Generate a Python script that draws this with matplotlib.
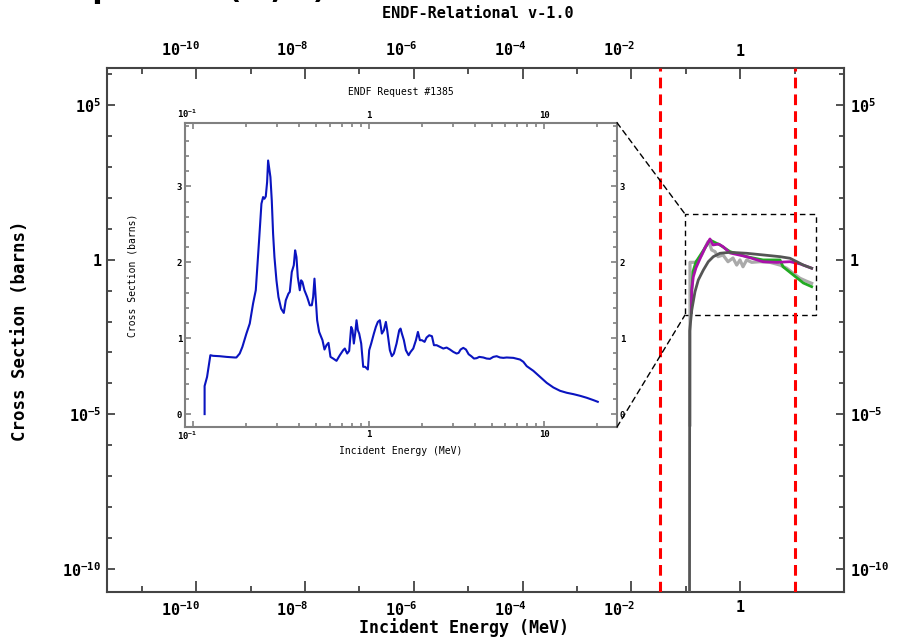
import matplotlib
matplotlib.use("Agg")
import matplotlib.pyplot as plt
import matplotlib.transforms as mtransforms
from matplotlib.patches import Rectangle, ConnectionPatch
from matplotlib.ticker import FixedLocator, FixedFormatter, NullFormatter

plt.rcParams['font.family'] = 'DejaVu Sans Mono'
plt.rcParams['font.weight'] = 'bold'
plt.rcParams['mathtext.fontset'] = 'custom'
plt.rcParams['mathtext.rm'] = 'DejaVu Sans Mono:bold'
plt.rcParams['mathtext.it'] = 'DejaVu Sans Mono:bold'
plt.rcParams['mathtext.bf'] = 'DejaVu Sans Mono:bold'

# ---- main panel data (energy in MeV, cross section in barns) ----
dark_energy = [0.1165, 0.1175, 0.128, 0.133, 0.147, 0.169, 0.209, 0.258, 0.319, 0.423,
               0.647, 1.31, 2.65, 5.37, 8.2, 10.9, 14.4, 20.5]
dark_xs = [1e-12, 0.005, 0.023, 0.034, 0.092, 0.22, 0.46, 0.86, 1.25, 1.61,
           1.73, 1.61, 1.42, 1.25, 1.11, 0.86, 0.67, 0.53]

light_energy = [0.119, 0.119, 0.147, 0.167, 0.195, 0.224, 0.255, 0.277, 0.298, 0.343,
                0.389, 0.481, 0.594, 0.734, 0.859, 0.987, 1.12, 1.31, 1.62, 2.3,
                3.51, 5.37, 7.13, 9.43, 12.5, 16.6, 20.5]
light_xs = [4.5e-6, 0.82, 0.82, 0.98, 1.42, 2.39, 3.83, 2.99, 2.06, 1.82,
            1.25, 1.42, 0.86, 1.13, 0.67, 0.98, 0.59, 0.98, 0.82, 0.86,
            0.82, 0.67, 0.53, 0.36, 0.25, 0.20, 0.172]

green_energy = [0.126, 0.128, 0.135, 0.153, 0.224, 0.277, 0.423, 0.647, 1.31, 2.61,
                5.37, 6.1, 9.43, 14.4, 20.5]
green_xs = [0.02, 0.09, 0.41, 0.84, 2.39, 4.34, 2.99, 1.82, 1.25, 0.98,
            0.98, 0.59, 0.32, 0.176, 0.134]

magenta_energy = [0.126, 0.128, 0.137, 0.153, 0.195, 0.224, 0.277, 0.315, 0.40, 0.481,
                  0.647, 1.31, 2.61, 4.67, 8.2, 12.5, 20.5]
magenta_xs = [0.02, 0.105, 0.28, 0.54, 1.42, 2.39, 4.68, 2.99, 3.2, 2.64,
              1.65, 1.25, 0.86, 0.82, 0.86, 0.73, 0.53]

marker_energies = [0.033, 10.0]       # red dashed lines
zoom_energy = [0.0962, 24.3]          # dashed zoom box
zoom_xs = [0.0162, 30.1]

# ---- inset data (ENDF Request #1385) ----
inset_energy = [
    0.116, 0.116, 0.1198, 0.1251, 0.1296, 0.1414, 0.1543, 0.1722, 0.1760, 0.1838,
    0.1904, 0.2007, 0.2097, 0.2190, 0.2269, 0.2309, 0.2370, 0.2412, 0.2444, 0.2498,
    0.2542, 0.2587, 0.2633, 0.2668, 0.2702, 0.2750, 0.2799, 0.2848, 0.2899, 0.2976,
    0.3055, 0.3164, 0.3277, 0.3364, 0.3483, 0.3545, 0.3639, 0.3736, 0.3802, 0.3869,
    0.3937, 0.4042, 0.4113, 0.4185, 0.4297, 0.4450, 0.4609, 0.4732, 0.4816, 0.4900,
    0.4987, 0.5075, 0.5210, 0.5443, 0.5588, 0.5736, 0.5888, 0.6045, 0.6262, 0.6542,
    0.6834, 0.7140, 0.7298, 0.7525, 0.7725, 0.7931, 0.8071, 0.8213, 0.8358, 0.8506,
    0.8656, 0.8808, 0.9044, 0.9284, 0.9530, 0.9869, 1.0044, 1.031, 1.068, 1.096,
    1.125, 1.155, 1.186, 1.218, 1.250, 1.272, 1.317, 1.352, 1.388, 1.438,
    1.489, 1.515, 1.542, 1.583, 1.625, 1.684, 1.729, 1.790, 1.854, 1.903,
    1.953, 2.005, 2.077, 2.132, 2.208, 2.287, 2.348, 2.432, 2.540, 2.654,
    2.773, 2.896, 3.026, 3.161, 3.245, 3.331, 3.450, 3.573, 3.700, 3.832,
    3.969, 4.111, 4.256, 4.486, 4.687, 4.897, 5.116, 5.345, 5.583, 5.833,
    6.095, 6.651, 7.259, 7.584, 7.924, 8.648, 9.438, 10.30, 11.24, 12.27,
    13.40, 14.62, 15.96, 17.42, 19.01, 20.13]
inset_xs = [
    0.0, 0.37, 0.49, 0.776, 0.768, 0.763, 0.754, 0.746, 0.746, 0.798,
    0.886, 1.061, 1.193, 1.456, 1.632, 1.895, 2.289, 2.575, 2.772, 2.860,
    2.838, 2.868, 3.057, 3.342, 3.254, 3.123, 2.816, 2.377, 2.070, 1.763,
    1.544, 1.390, 1.333, 1.500, 1.588, 1.610, 1.873, 1.961, 2.158, 2.070,
    1.807, 1.632, 1.763, 1.741, 1.632, 1.544, 1.434, 1.434, 1.544, 1.785,
    1.500, 1.237, 1.083, 0.974, 0.851, 0.908, 0.939, 0.754, 0.732, 0.702,
    0.776, 0.842, 0.864, 0.798, 0.833, 1.149, 1.105, 0.930, 1.061, 1.237,
    1.105, 1.061, 0.930, 0.623, 0.623, 0.588, 0.842, 0.930, 1.061, 1.149,
    1.215, 1.237, 1.061, 1.105, 1.215, 1.105, 0.842, 0.763, 0.798, 0.930,
    1.105, 1.127, 1.061, 0.974, 0.842, 0.776, 0.820, 0.864, 0.974, 1.083,
    0.974, 0.974, 0.952, 1.009, 1.039, 1.026, 0.908, 0.908, 0.886, 0.864,
    0.877, 0.851, 0.820, 0.798, 0.807, 0.851, 0.873, 0.851, 0.789, 0.763,
    0.732, 0.737, 0.754, 0.746, 0.732, 0.728, 0.754, 0.763, 0.746, 0.741,
    0.746, 0.741, 0.719, 0.689, 0.632, 0.570, 0.491, 0.412, 0.351, 0.307,
    0.281, 0.263, 0.241, 0.215, 0.184, 0.162]

main_xticks = [1e-10, 1e-8, 1e-6, 1e-4, 1e-2, 1]
main_xticklabels = [r'$10^{-10}$', r'$10^{-8}$', r'$10^{-6}$', r'$10^{-4}$', r'$10^{-2}$', '1']
main_yticks = [1e-10, 1e-5, 1, 1e5]
main_yticklabels = [r'$10^{-10}$', r'$10^{-5}$', '1', r'$10^{5}$']
inset_xticks = [0.1, 1, 10]
inset_xticklabels = [r'$10^{-1}$', '1', '10']
inset_yticks = [0, 1, 2, 3]
inset_yticklabels = ['0', '1', '2', '3']

fig = plt.figure(figsize=(9.04, 6.38), dpi=100)

# ---------------- main axes ----------------
ax = fig.add_axes([107 / 904, 1 - 592 / 638, 737 / 904, 524.3 / 638])
ax.set_xscale('log')
ax.set_yscale('log')
ax.set_xlim(10 ** -11.64, 10 ** 1.906)
ax.set_ylim(10 ** -10.75, 10 ** 6.21)

for s in ax.spines.values():
    s.set_color('#444444')
    s.set_linewidth(1.5)

ax.xaxis.set_major_locator(FixedLocator(main_xticks))
ax.xaxis.set_major_formatter(FixedFormatter(main_xticklabels))
ax.xaxis.set_minor_locator(FixedLocator([10.0 ** k for k in range(-11, 2, 2)]))
ax.xaxis.set_minor_formatter(NullFormatter())
ax.yaxis.set_major_locator(FixedLocator(main_yticks))
ax.yaxis.set_major_formatter(FixedFormatter(main_yticklabels))
ax.yaxis.set_minor_locator(FixedLocator([10.0 ** k for k in range(-10, 7)]))
ax.yaxis.set_minor_formatter(NullFormatter())

ax.tick_params(which='both', direction='in', top=True, right=True,
               labeltop=True, labelright=True, color='#444444', width=1.3,
               labelsize=11)
ax.tick_params(axis='x', which='major', length=8, pad=6)
ax.tick_params(axis='x', which='minor', length=4.5)
ax.tick_params(axis='y', which='major', length=6, pad=4)
ax.tick_params(axis='y', which='minor', length=3.5)

# power-of-ten labels sit to the left of their tick
shift = mtransforms.ScaledTranslation(4 / 100, 0, fig.dpi_scale_trans)
for t, lab in zip(ax.xaxis.get_major_ticks(), main_xticklabels):
    if lab != '1':
        for tl in (t.label1, t.label2):
            tl.set_horizontalalignment('right')
            tl.set_transform(tl.get_transform() + shift)

ax.add_patch(Rectangle((zoom_energy[0], zoom_xs[0]), zoom_energy[1] - zoom_energy[0],
                       zoom_xs[1] - zoom_xs[0], fill=False, ec='black', lw=1,
                       ls=(0, (4, 3)), zorder=2))

ax.plot(light_energy, light_xs, color='#AAAAAA', lw=2.3, zorder=3)
ax.plot(green_energy, green_xs, color='#22AA22', lw=2.0, zorder=4)
ax.plot(magenta_energy, magenta_xs, color='#AA10AA', lw=2.0, zorder=5)
ax.plot(dark_energy, dark_xs, color='#555555', lw=2.0, zorder=6)

for e in marker_energies:
    ax.axvline(e, color='#FF0000', lw=2.2, ls=(0, (3.5, 2)), zorder=7)

# ---------------- inset ----------------
ins = fig.add_axes([185 / 904, 1 - 427 / 638, 432 / 904, 304.3 / 638])
ins.set_xscale('log')
ins.set_xlim(0.0897, 25.9)
ins.set_ylim(-0.17, 3.84)
ins.plot(inset_energy, inset_xs, color='#0A14C0', lw=1.5)

for s in ins.spines.values():
    s.set_color('#808080')
    s.set_linewidth(1.5)
ins.xaxis.set_major_locator(FixedLocator(inset_xticks))
ins.xaxis.set_major_formatter(FixedFormatter(inset_xticklabels))
ins.xaxis.set_minor_locator(FixedLocator([m * 10.0 ** k for k in (-1, 0, 1) for m in range(2, 10)]))
ins.xaxis.set_minor_formatter(NullFormatter())
ins.yaxis.set_major_locator(FixedLocator(inset_yticks))
ins.yaxis.set_major_formatter(FixedFormatter(inset_yticklabels))
ins.yaxis.set_minor_locator(FixedLocator([i * 0.2 for i in range(0, 20)]))
ins.yaxis.set_minor_formatter(NullFormatter())
ins.tick_params(which='both', direction='in', top=True, right=True,
                labeltop=True, labelright=True, color='#808080', width=1.2,
                labelsize=6.5, pad=2)
ins.tick_params(which='major', length=4)
ins.tick_params(which='minor', length=3)
for t, lab in zip(ins.xaxis.get_major_ticks(), inset_xticklabels):
    if lab.startswith('$'):
        for tl in (t.label1, t.label2):
            tl.set_horizontalalignment('right')
            tl.set_transform(tl.get_transform() + shift)

ins.set_title('ENDF Request #1385', fontsize=7, pad=20)
ins.set_xlabel('Incident Energy (MeV)', fontsize=7, labelpad=3)
ins.set_ylabel('Cross Section (barns)', fontsize=7, labelpad=28)

for (xa, ya), yd in (((1, 1), zoom_xs[1]), ((1, 0), zoom_xs[0])):
    con = ConnectionPatch(xyA=(xa, ya), coordsA=ins.transAxes,
                          xyB=(zoom_energy[0], yd), coordsB=ax.transData,
                          color='black', lw=1, ls=(0, (4, 3)))
    fig.add_artist(con)

# ---------------- figure texts ----------------
# large heading that runs off the top edge, as in the source image
fig.text(27 / 904, 1 + 3.5 / 638, 'Compare  (n,α)', fontsize=26, va='baseline', ha='left')
fig.text(478 / 904, 1 - 14 / 638, 'ENDF-Relational v-1.0', fontsize=11, ha='center', va='center')
fig.text(464 / 904, 1 - 628 / 638, 'Incident Energy (MeV)', fontsize=12, ha='center', va='center')
fig.text(20 / 904, 1 - 331 / 638, 'Cross Section (barns)', fontsize=12.5, rotation=90,
         ha='center', va='center')

fig.savefig('out.png', dpi=100)
